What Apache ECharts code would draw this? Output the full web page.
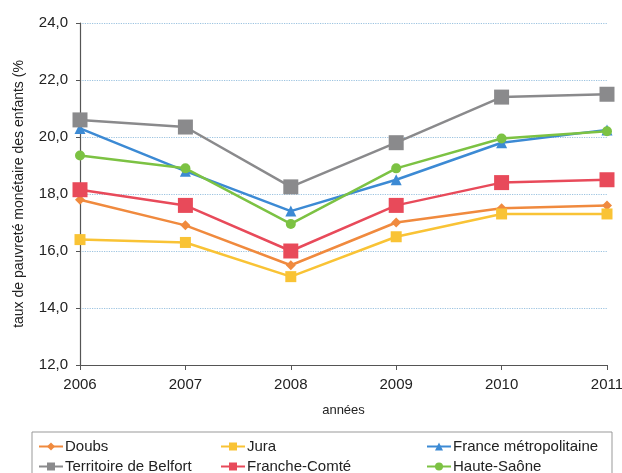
<!DOCTYPE html>
<html>
<head>
<meta charset="utf-8">
<script src="https://cdn.jsdelivr.net/npm/echarts@6/dist/echarts.min.js"></script>
<style>
  html, body { margin: 0; padding: 0; background: #fff; }
  #grafica { width: 622px; height: 473px; }
</style>
</head>
<body>
<div id="grafica"></div>
<script>
const annees = ["2006", "2007", "2008", "2009", "2010", "2011"];
const doubs = [17.8, 16.9, 15.5, 17.0, 17.5, 17.6];
const jura = [16.4, 16.3, 15.1, 16.5, 17.3, 17.3];
const franceMetro = [20.3, 18.8, 17.4, 18.5, 19.8, 20.25];
const belfort = [20.6, 20.35, 18.25, 19.8, 21.4, 21.5];
const francheComte = [18.15, 17.6, 16.0, 17.6, 18.4, 18.5];
const hauteSaone = [19.35, 18.9, 16.95, 18.9, 19.95, 20.2];
const yTicks = [12, 14, 16, 18, 20, 22, 24];

const police = "Liberation Sans";

// une serie = nom, donnees, couleur, symbole, taille
const mkSerie = (name, data, color, symbol, size) => ({
  name: name,
  type: "line",
  data: data,
  symbol: symbol,
  symbolSize: size,
  lineStyle: { color: color, width: 2.5 },
  itemStyle: { color: color },
  emphasis: { disabled: true },
});

// une legende par entree, placee a la main (grille 3 x 2)
const legende = (left, top, name) => ({
  left: left,
  top: top,
  padding: 0,
  itemWidth: 24,
  itemHeight: 10,
  data: [name],
  textStyle: { fontFamily: police, fontSize: 15, color: "#222", padding: [0, 0, 0, -3] },
});

const option = {
  animation: false,
  grid: { left: 80, right: 15, top: 23, bottom: 108, outerBoundsMode: "none", containLabel: false },
  xAxis: {
    type: "category",
    data: annees,
    boundaryGap: false,
    name: "années",
    nameLocation: "middle",
    nameGap: 39,
    nameTextStyle: { fontFamily: police, fontSize: 13, color: "#222" },
    axisLine: { lineStyle: { color: "#555", width: 1.2 } },
    axisTick: { show: true, length: 5, lineStyle: { color: "#555" } },
    axisLabel: { fontFamily: police, fontSize: 15, color: "#222", margin: 12 },
  },
  yAxis: {
    type: "value",
    min: yTicks[0],
    max: yTicks[yTicks.length - 1],
    interval: 2,
    name: "taux de pauvreté monétaire des enfants (%",
    nameLocation: "middle",
    nameGap: 54,
    nameTextStyle: { fontFamily: police, fontSize: 14, color: "#222" },
    axisLine: { show: true, lineStyle: { color: "#555", width: 1.2 } },
    axisTick: { show: true, length: 4, lineStyle: { color: "#555" } },
    axisLabel: {
      fontFamily: police,
      fontSize: 15,
      color: "#222",
      margin: 12,
      formatter: (v) => v.toFixed(1).replace(".", ","),
    },
    splitLine: { lineStyle: { color: "#9cc3e0", type: "dotted", width: 1.2 } },
  },
  legend: [
    legende(38, 439, "Doubs"),
    legende(220, 439, "Jura"),
    legende(426, 439, "France métropolitaine"),
    legende(38, 459, "Territoire de Belfort"),
    legende(220, 459, "Franche-Comté"),
    legende(426, 459, "Haute-Saône"),
  ],
  graphic: [
    {
      type: "rect",
      shape: { x: 32, y: 432, width: 580, height: 44 },
      style: { fill: "none", stroke: "#999", lineWidth: 1 },
    },
  ],
  series: [
    mkSerie("Doubs", doubs, "#f08a3e", "diamond", 10),
    mkSerie("Jura", jura, "#f9c335", "rect", 11),
    mkSerie("France métropolitaine", franceMetro, "#3c8ad4", "triangle", 11),
    mkSerie("Territoire de Belfort", belfort, "#8a8a8c", "rect", 15),
    mkSerie("Franche-Comté", francheComte, "#e84a5a", "rect", 15),
    mkSerie("Haute-Saône", hauteSaone, "#7cc243", "circle", 10),
  ],
};

let myChart = echarts.init(document.querySelector("#grafica"));
myChart.setOption(option);
</script>
</body>
</html>
